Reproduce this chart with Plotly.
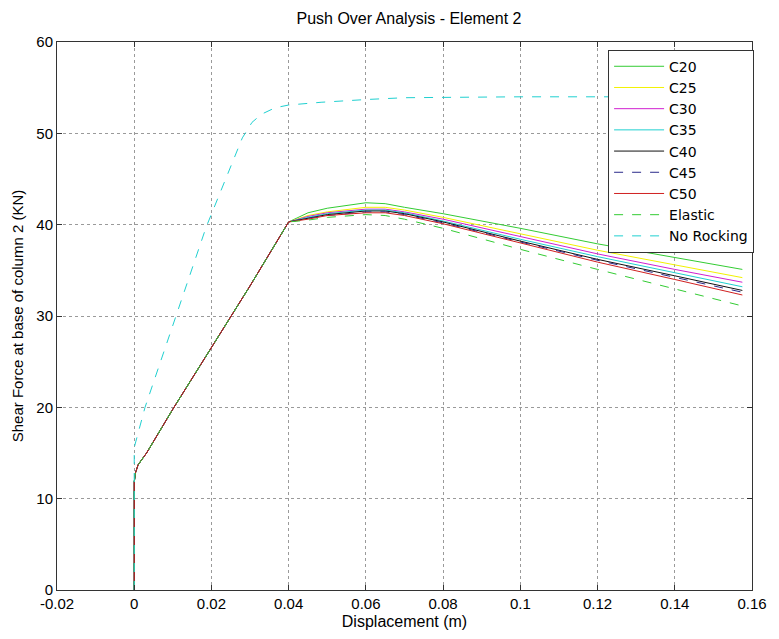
import plotly.graph_objects as go

# Displacement samples (m) shared by the concrete-grade series
disp = [0.0, 0.0, 0.0003, 0.001, 0.002, 0.0032, 0.010, 0.020, 0.030, 0.040,
        0.045, 0.050, 0.060, 0.065, 0.070, 0.080, 0.100, 0.120, 0.140, 0.1575]

# Common pre-peak branch (KN)
rise = [0.0, 11.8, 12.8, 13.7, 14.3, 15.0, 19.8, 26.5, 33.3, 40.3]

# Post-yield branch per series (KN), at disp[10:]
c20 = [41.3, 41.8, 42.4, 42.3, 41.9, 41.2, 39.6, 37.9, 36.4, 35.1]
c25 = [41.0, 41.4, 41.9, 41.9, 41.6, 40.8, 39.0, 37.2, 35.6, 34.2]
c30 = [40.9, 41.3, 41.7, 41.7, 41.4, 40.6, 38.7, 36.8, 35.1, 33.7]
c35 = [40.8, 41.2, 41.6, 41.6, 41.3, 40.4, 38.4, 36.5, 34.7, 33.2]
c40 = [40.7, 41.1, 41.5, 41.5, 41.2, 40.3, 38.2, 36.2, 34.4, 32.8]
c45 = [40.7, 41.0, 41.4, 41.4, 41.1, 40.2, 38.1, 36.1, 34.2, 32.6]
c50 = [40.6, 41.0, 41.3, 41.3, 41.0, 40.1, 38.0, 35.9, 34.0, 32.3]
elastic = [40.5, 40.8, 41.1, 41.0, 40.6, 39.6, 37.3, 35.1, 33.0, 31.1]

# Fixed-base (no rocking) response
norock_disp = [0.0, 0.0, 0.0028, 0.0109, 0.0186, 0.0280, 0.0305, 0.0330, 0.0365,
               0.040, 0.0484, 0.060, 0.070, 0.100, 0.1575]
norock_force = [0.0, 15.6, 20.0, 30.0, 39.7, 49.5, 51.2, 52.1, 52.8,
                53.1, 53.4, 53.7, 53.9, 54.0, 54.0]

x_ticks = [-0.02, 0, 0.02, 0.04, 0.06, 0.08, 0.1, 0.12, 0.14, 0.16]
x_tick_labels = ["-0.02", "0", "0.02", "0.04", "0.06", "0.08", "0.1", "0.12", "0.14", "0.16"]
y_ticks = [0, 10, 20, 30, 40, 50, 60]

series = [
    ("C20", c20, "#33cc33", "solid"),
    ("C25", c25, "#f2f200", "solid"),
    ("C30", c30, "#d020d0", "solid"),
    ("C35", c35, "#20d0d0", "solid"),
    ("C40", c40, "#111111", "solid"),
    ("C45", c45, "#2a2a8a", "dash"),
    ("C50", c50, "#d02020", "solid"),
    ("Elastic", elastic, "#33cc33", "dash"),
]

fig = go.Figure()
for name, post, color, dash in series:
    fig.add_trace(go.Scatter(
        x=disp, y=rise + post, mode="lines", name=name,
        line=dict(color=color, width=1, dash=dash),
    ))
fig.add_trace(go.Scatter(
    x=norock_disp, y=norock_force, mode="lines", name="No Rocking",
    line=dict(color="#20d0d0", width=1, dash="dash"),
))

font = "Liberation Sans, Arial, sans-serif"
axis_common = dict(
    showline=True, linecolor="#333333", linewidth=1, mirror="ticks",
    ticks="inside", ticklen=5, tickcolor="#333333",
    showgrid=True, gridcolor="#9a9a9a", griddash="dot", gridwidth=1,
    zeroline=False, tickfont=dict(family=font, size=15, color="black"),
)

fig.update_layout(
    width=779, height=639,
    margin=dict(l=57, r=18, t=42, b=43),
    paper_bgcolor="white", plot_bgcolor="white",
    font=dict(family=font, size=14, color="black"),
    title=dict(text="Push Over Analysis - Element 2", x=0.525, xanchor="center",
               y=1 - 18 / 639, yanchor="middle", font=dict(family=font, size=16)),
    xaxis=dict(range=[-0.02, 0.16], tickvals=x_ticks, ticktext=x_tick_labels,
               title=dict(text="Displacement (m)", standoff=4,
                          font=dict(family=font, size=16)),
               **axis_common),
    yaxis=dict(range=[0, 60], tickvals=y_ticks,
               title=dict(text="Shear Force at base of column 2 (KN)", standoff=9,
                          font=dict(family=font, size=15)),
               **axis_common),
    legend=dict(x=1.003, y=0.986, xanchor="right", yanchor="top",
                bgcolor="white", bordercolor="#333333", borderwidth=1,
                font=dict(family="DejaVu Sans, sans-serif", size=14),
                tracegroupgap=0, itemwidth=50),
    showlegend=True,
)

fig.write_html("out.html")
